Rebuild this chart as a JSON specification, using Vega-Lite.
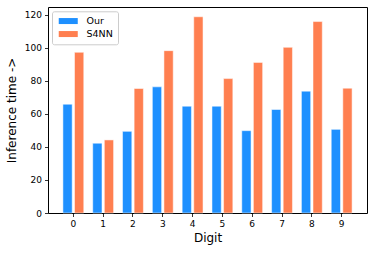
{
  "$schema": "https://vega.github.io/schema/vega-lite/v6.json",
  "autosize": {"type": "none"},
  "width": 319,
  "height": 206,
  "padding": {"left": 48, "top": 7, "right": 7, "bottom": 40},
  "background": "white",
  "config": {
    "font": "DejaVu Sans",
    "view": {"stroke": "black", "strokeWidth": 1},
    "axis": {"grid": false, "domain": false, "tickColor": "black", "tickSize": 3.5, "tickWidth": 0.8, "labelColor": "black", "labelFontSize": 9, "titleFontSize": 12, "titleFontWeight": "normal", "titleColor": "black", "labelFont": "DejaVu Sans", "titleFont": "DejaVu Sans"}
  },
  "data": {
    "values": [
      {"digit": "0", "method": "Our", "time": 65.8},
      {"digit": "0", "method": "S4NN", "time": 97.2},
      {"digit": "1", "method": "Our", "time": 42.2},
      {"digit": "1", "method": "S4NN", "time": 44.2},
      {"digit": "2", "method": "Our", "time": 49.4},
      {"digit": "2", "method": "S4NN", "time": 75.3},
      {"digit": "3", "method": "Our", "time": 76.3},
      {"digit": "3", "method": "S4NN", "time": 98.2},
      {"digit": "4", "method": "Our", "time": 64.6},
      {"digit": "4", "method": "S4NN", "time": 118.7},
      {"digit": "5", "method": "Our", "time": 64.6},
      {"digit": "5", "method": "S4NN", "time": 81.3},
      {"digit": "6", "method": "Our", "time": 49.8},
      {"digit": "6", "method": "S4NN", "time": 91.1},
      {"digit": "7", "method": "Our", "time": 62.6},
      {"digit": "7", "method": "S4NN", "time": 100.2},
      {"digit": "8", "method": "Our", "time": 73.7},
      {"digit": "8", "method": "S4NN", "time": 115.8},
      {"digit": "9", "method": "Our", "time": 50.6},
      {"digit": "9", "method": "S4NN", "time": 75.5}
    ]
  },
  "mark": {"type": "bar", "stroke": "white", "strokeWidth": 1, "strokeOpacity": 0.5},
  "encoding": {
    "x": {
      "field": "digit", "type": "nominal", "title": "Digit",
      "scale": {"paddingInner": 0.3, "paddingOuter": 0.5},
      "axis": {"labelAngle": 0, "labelPadding": 3, "titlePadding": 4}
    },
    "xOffset": {"field": "method", "type": "nominal", "scale": {"paddingInner": 0.2}},
    "y": {
      "field": "time", "type": "quantitative", "title": "Inference time ->",
      "scale": {"domain": [0, 124.6], "nice": false},
      "axis": {"values": [0, 20, 40, 60, 80, 100, 120], "labelPadding": 3, "titlePadding": 6}
    },
    "color": {
      "field": "method", "type": "nominal",
      "scale": {"domain": ["Our", "S4NN"], "range": ["#1E90FF", "#FF7F50"]},
      "legend": {
        "title": null, "orient": "none", "legendX": 4, "legendY": 4.3,
        "symbolType": "M-3.17,-1H3.17V1H-3.17Z", "symbolSize": 36, "symbolStrokeWidth": 0, "symbolOffset": 6.5,
        "labelFontSize": 9.5, "labelColor": "black", "labelOffset": 13.5,
        "rowPadding": 2, "padding": 5, "strokeColor": "#cccccc", "fillColor": "white", "cornerRadius": 2
      }
    }
  }
}
